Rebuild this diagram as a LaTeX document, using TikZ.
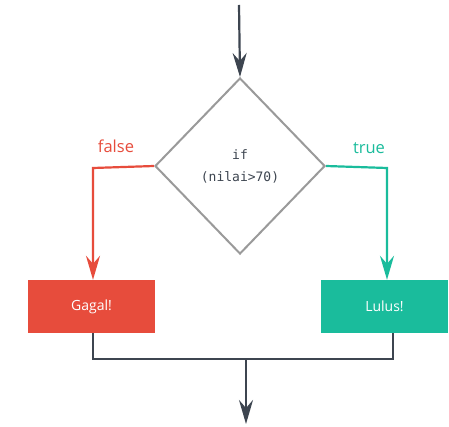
\documentclass[tikz,border=0pt]{standalone}
\usepackage{fontspec}
\setmainfont{Open Sans}
\newfontfamily\codefont{DejaVu Sans Mono}
\usetikzlibrary{shapes.geometric,arrows.meta}
\definecolor{fred}{HTML}{E74C3C}
\definecolor{fteal}{HTML}{1ABC9C}
\definecolor{fdark}{HTML}{3D4550}
\definecolor{fgray}{HTML}{9A9A9A}
\tikzset{
  box/.style={draw=none, minimum width=127pt, minimum height=53pt, inner sep=0pt, text=white, font=\fontsize{14}{16}\selectfont},
  cond/.style={diamond, draw=fgray, line width=2pt, minimum width=170pt, minimum height=176pt, inner sep=0pt, align=center, font=\codefont\fontsize{13}{22}\selectfont, text=fdark},
  flow/.style={line width=2.2pt, -{Stealth[length=24pt,width=14pt,inset=8pt]}},
  lbl/.style={font=\fontsize{16.5}{18}\selectfont},
}
\begin{document}
\begin{tikzpicture}[x=1pt,y=-1pt]
\useasboundingbox (0,0) rectangle (449,427);
\fill[white] (0,0) rectangle (449,427);
\node[cond] (d) at (240,166) {if\\(nilai>70)};
\coordinate (top) at (239,5);
\node[box, fill=fred] (g) at (91.5,306.5) {Gagal!};
\node[box, fill=fteal] (l) at (384.5,306.5) {Lulus!};
\coordinate (fc) at (93,168);
\coordinate (tc) at (387,168);
\coordinate (jl) at (93,359);
\coordinate (jr) at (393,359);
\coordinate (jm) at (246,359);
\coordinate (out) at (246,424);
\draw[flow, fdark] (top) -- (d.north);
\draw[flow, fred] (d.west) -- (fc) -- (g.north -| fc);
\draw[flow, fteal] (d.east) -- (tc) -- (l.north -| tc);
\draw[line width=2.2pt, fdark] (g.south -| jl) -- (jl) -- (jr) -- (l.south -| jr);
\draw[flow, fdark] (jm) -- (out);
\node[lbl, text=fred] (fl) at (116,146) {false};
\node[lbl, text=fteal] (tl) at (369,148) {true};
\end{tikzpicture}
\end{document}
